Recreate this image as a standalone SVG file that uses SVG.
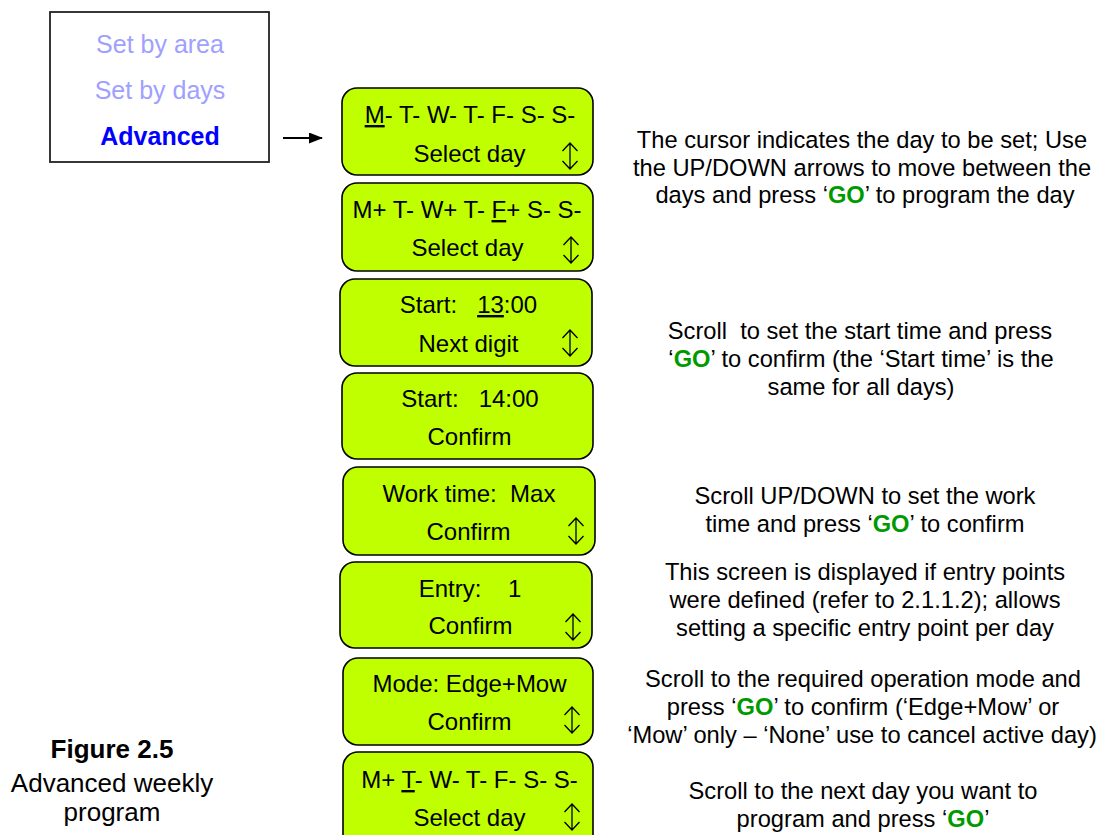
<svg xmlns="http://www.w3.org/2000/svg" width="1099" height="835" viewBox="0 0 1099 835">
<style>
.box{fill:#bfff00;stroke:#000;stroke-width:1.6}
.bt{font-family:"Liberation Sans",Arial,sans-serif;font-size:24px;fill:#000;text-anchor:middle}
.rt{font-family:"Liberation Sans",Arial,sans-serif;font-size:23.7px;fill:#000;text-anchor:middle}
.go{font-weight:bold;fill:#009a00}
.menu{font-family:"Liberation Sans",Arial,sans-serif;font-size:25px;text-anchor:middle}
.fig{font-family:"Liberation Sans",Arial,sans-serif;font-size:26px;fill:#000;text-anchor:middle}
.ud{text-decoration:underline}
</style>
<defs>
<g id="updown" fill="none" stroke="#000" stroke-width="1.3">
<path d="M0,-13 L0,13 M-7.5,-5 L0,-13 L7.5,-5 M-7.5,5 L0,13 L7.5,5"/>
</g>
<marker id="ah" markerWidth="14" markerHeight="11" refX="13" refY="5.5" orient="auto" markerUnits="userSpaceOnUse">
<path d="M0,0 L14,5.5 L0,11 Z" fill="#000"/>
</marker>
</defs>

<g id="menu">
<rect x="50" y="12" width="219" height="150" fill="#fff" stroke="#222" stroke-width="1.8"/>
<text class="menu" x="160" y="53" fill="#a0a0ff">Set by area</text>
<text class="menu" x="160" y="99" fill="#a0a0ff">Set by days</text>
<text class="menu" x="160" y="145" fill="#0000ff" font-weight="bold">Advanced</text>
</g>

<g id="connectors">
<line x1="283" y1="138" x2="322" y2="138" stroke="#000" stroke-width="2.2" marker-end="url(#ah)"/>
</g>

<g id="screen1">
<rect class="box" x="342" y="88" width="251" height="87" rx="15"/>
<text class="bt" x="470" y="123"><tspan class="ud">M</tspan>- T- W- T- F- S- S-</text>
<text class="bt" x="469.5" y="162">Select day</text>
<use href="#updown" x="570" y="156"/>
</g>

<g id="screen2">
<rect class="box" x="342" y="183" width="251" height="88" rx="15"/>
<text class="bt" x="467" y="218">M+ T- W+ T- <tspan class="ud">F</tspan>+ S- S-</text>
<text class="bt" x="467.5" y="256">Select day</text>
<use href="#updown" x="571" y="250"/>
</g>

<g id="screen3">
<rect class="box" x="340" y="279" width="252" height="87" rx="15"/>
<text class="bt" x="468.5" y="313" xml:space="preserve">Start:   <tspan class="ud">13</tspan>:00</text>
<text class="bt" x="468.5" y="352">Next digit</text>
<use href="#updown" x="570" y="343"/>
</g>

<g id="screen4">
<rect class="box" x="342" y="373" width="251" height="86" rx="15"/>
<text class="bt" x="470" y="407" xml:space="preserve">Start:   14:00</text>
<text class="bt" x="469.5" y="445">Confirm</text>
</g>

<g id="screen5">
<rect class="box" x="343" y="467" width="252" height="88" rx="15"/>
<text class="bt" x="469" y="502" xml:space="preserve">Work time:  Max</text>
<text class="bt" x="468.5" y="540">Confirm</text>
<use href="#updown" x="576" y="531"/>
</g>

<g id="screen6">
<rect class="box" x="340" y="562" width="252" height="86" rx="15"/>
<text class="bt" x="470" y="597" xml:space="preserve">Entry:    1</text>
<text class="bt" x="470.5" y="634">Confirm</text>
<use href="#updown" x="573" y="627"/>
</g>

<g id="screen7">
<rect class="box" x="343" y="658" width="250" height="87" rx="15"/>
<text class="bt" x="469.5" y="692">Mode: Edge+Mow</text>
<text class="bt" x="469.5" y="730">Confirm</text>
<use href="#updown" x="572" y="720"/>
</g>

<g id="screen8">
<rect class="box" x="343" y="752" width="250" height="100" rx="15"/>
<text class="bt" x="469.5" y="788">M+ <tspan class="ud">T</tspan>- W- T- F- S- S-</text>
<text class="bt" x="469.5" y="826">Select day</text>
<use href="#updown" x="572" y="817"/>
</g>

<g id="notes">
<text class="rt" x="862" y="148">The cursor indicates the day to be set; Use</text>
<text class="rt" x="862" y="176">the UP/DOWN arrows to move between the</text>
<text class="rt" x="865" y="203">days and press ‘<tspan class="go">GO</tspan>’ to program the day</text>

<text class="rt" x="860" y="339" xml:space="preserve">Scroll  to set the start time and press</text>
<text class="rt" x="861" y="367">‘<tspan class="go">GO</tspan>’ to confirm (the ‘Start time’ is the</text>
<text class="rt" x="861" y="395">same for all days)</text>

<text class="rt" x="865" y="504">Scroll UP/DOWN to set the work</text>
<text class="rt" x="865" y="532">time and press ‘<tspan class="go">GO</tspan>’ to confirm</text>

<text class="rt" x="865" y="580">This screen is displayed if entry points</text>
<text class="rt" x="865" y="608">were defined (refer to 2.1.1.2); allows</text>
<text class="rt" x="865" y="636">setting a specific entry point per day</text>

<text class="rt" x="863" y="687">Scroll to the required operation mode and</text>
<text class="rt" x="863" y="715">press ‘<tspan class="go">GO</tspan>’ to confirm (‘Edge+Mow’ or</text>
<text class="rt" x="862" y="743">‘Mow’ only – ‘None’ use to cancel active day)</text>

<text class="rt" x="863" y="799">Scroll to the next day you want to</text>
<text class="rt" x="863" y="827">program and press ‘<tspan class="go">GO</tspan>’</text>
</g>

<g id="caption">
<text class="fig" x="112" y="758" font-weight="bold">Figure 2.5</text>
<text class="fig" x="112" y="792">Advanced weekly</text>
<text class="fig" x="112" y="821">program</text>
</g>
</svg>
